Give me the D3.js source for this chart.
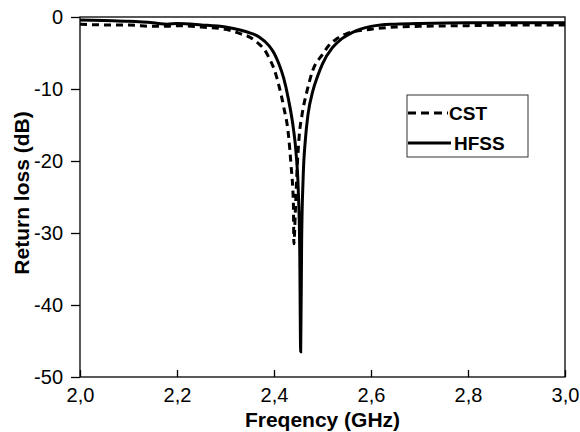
<!DOCTYPE html>
<html>
<head>
<meta charset="utf-8">
<script src="https://cdn.jsdelivr.net/npm/d3@7"></script>
<style>
  body { margin: 0; background: #fff; }
  text { font-family: Arial, "Liberation Sans", sans-serif; }
</style>
</head>
<body>
<div id="chart"></div>
<script>
// frequencies in GHz, return loss in dB
const hfssFreq = [2.00, 2.05, 2.10, 2.15, 2.18, 2.20, 2.25, 2.30, 2.33, 2.35, 2.37, 2.39, 2.40, 2.41, 2.42, 2.43, 2.44, 2.445, 2.45, 2.453, 2.455, 2.457, 2.46, 2.465, 2.47, 2.48, 2.49, 2.50, 2.52, 2.54, 2.56, 2.60, 2.62, 2.65, 2.70, 2.80, 2.90, 3.00];
const hfssLoss = [-0.4, -0.5, -0.6, -0.8, -1.0, -0.9, -1.1, -1.4, -1.8, -2.2, -2.8, -4.0, -5.0, -6.5, -8.5, -11.5, -15.5, -18.5, -24, -32, -46.5, -31, -22.5, -16.8, -13.6, -10.3, -8.2, -6.5, -4.3, -3.0, -2.2, -1.3, -1.1, -1.0, -0.9, -0.8, -0.8, -0.8];

const cstFreq = [2.00, 2.05, 2.10, 2.15, 2.18, 2.20, 2.25, 2.30, 2.33, 2.35, 2.37, 2.38, 2.39, 2.40, 2.41, 2.42, 2.43, 2.435, 2.44, 2.441, 2.444, 2.447, 2.452, 2.458, 2.468, 2.48, 2.50, 2.515, 2.53, 2.55, 2.60, 2.65, 2.70, 2.80, 2.90, 3.00];
const cstLoss = [-1.0, -1.1, -1.1, -1.3, -1.3, -1.2, -1.4, -1.7, -2.3, -2.8, -3.8, -4.5, -5.7, -7.2, -9.5, -12.5, -16.5, -20.5, -26, -31.5, -27, -22, -16.5, -13.5, -10.3, -7.4, -5.2, -3.8, -3.0, -2.3, -1.7, -1.4, -1.3, -1.2, -1.1, -1.1];

const xTicks = [2.0, 2.2, 2.4, 2.6, 2.8, 3.0];
const yTicks = [0, -10, -20, -30, -40, -50];

const width = 580, height = 432;
const margin = { top: 17, right: 15, bottom: 55, left: 80 };

const svg = d3.select('#chart').append('svg')
	.attr('width', width)
	.attr('height', height);

const x = d3.scaleLinear().domain([2.0, 3.0]).range([margin.left, width - margin.right]);
const y = d3.scaleLinear().domain([-50, 0]).range([height - margin.bottom, margin.top]);

const fmt = d => d3.format('.1f')(d).replace('.', ',');

// frame
svg.append('rect')
	.attr('x', x(2.0)).attr('y', y(0))
	.attr('width', x(3.0) - x(2.0)).attr('height', y(-50) - y(0))
	.attr('fill', 'none').attr('stroke', '#000').attr('stroke-width', 1.3);

// x axis, ticks point into the plot
const xAxis = svg.append('g')
	.attr('transform', 'translate(0,' + y(-50) + ')');
xAxis.call(d3.axisBottom(x).tickValues(d3.range(2.0, 3.001, 0.1)).tickSize(-4).tickFormat(''));
xAxis.call(d3.axisBottom(x).tickValues(xTicks).tickSize(-7).tickPadding(11).tickFormat(fmt));

// y axis, ticks point outward
const yAxis = svg.append('g')
	.attr('transform', 'translate(' + x(2.0) + ',0)');
yAxis.call(d3.axisLeft(y).tickValues(d3.range(-50, 0.1, 5)).tickSize(4).tickFormat(''));
yAxis.call(d3.axisLeft(y).tickValues(yTicks).tickSize(9).tickPadding(8).tickFormat(d => String(d)));

svg.selectAll('.domain').remove();
svg.selectAll('.tick line').attr('stroke', '#000').attr('stroke-width', 1.3);
svg.selectAll('.tick text').attr('font-size', 20).attr('fill', '#000')
	.style('font-family', 'Arial, "Liberation Sans", sans-serif');

// curves
const line = d3.line()
	.x(d => x(d[0]))
	.y(d => y(d[1]))
	.curve(d3.curveMonotoneX);

const hfss = hfssFreq.map((f, i) => [f, hfssLoss[i]]);
const cst = cstFreq.map((f, i) => [f, cstLoss[i]]);

svg.append('path')
	.datum(cst)
	.attr('d', line)
	.attr('fill', 'none')
	.attr('stroke', '#000')
	.attr('stroke-width', 3)
	.attr('stroke-dasharray', '7,5');

svg.append('path')
	.datum(hfss)
	.attr('d', line)
	.attr('fill', 'none')
	.attr('stroke', '#000')
	.attr('stroke-width', 3);

// legend
const legend = svg.append('g');
legend.append('rect')
	.attr('x', 407).attr('y', 95)
	.attr('width', 121).attr('height', 62)
	.attr('fill', '#fff').attr('stroke', '#333').attr('stroke-width', 1);
legend.append('line')
	.attr('x1', 408).attr('x2', 448).attr('y1', 113).attr('y2', 113)
	.attr('stroke', '#000').attr('stroke-width', 3).attr('stroke-dasharray', '8,5');
legend.append('text')
	.attr('x', 449).attr('y', 120)
	.attr('font-size', 19).attr('font-weight', 'bold')
	.text('CST');
legend.append('line')
	.attr('x1', 408).attr('x2', 451).attr('y1', 143).attr('y2', 143)
	.attr('stroke', '#000').attr('stroke-width', 3);
legend.append('text')
	.attr('x', 454).attr('y', 150)
	.attr('font-size', 19).attr('font-weight', 'bold')
	.text('HFSS');

// axis titles
svg.append('text')
	.attr('x', (x(2.0) + x(3.0)) / 2).attr('y', 427)
	.attr('text-anchor', 'middle')
	.attr('font-size', 21).attr('font-weight', 'bold')
	.text('Freqency (GHz)');

svg.append('text')
	.attr('transform', 'translate(29,' + ((y(0) + y(-50)) / 2 - 4) + ') rotate(-90)')
	.attr('text-anchor', 'middle')
	.attr('font-size', 21).attr('font-weight', 'bold')
	.text('Return loss (dB)');
</script>
</body>
</html>
